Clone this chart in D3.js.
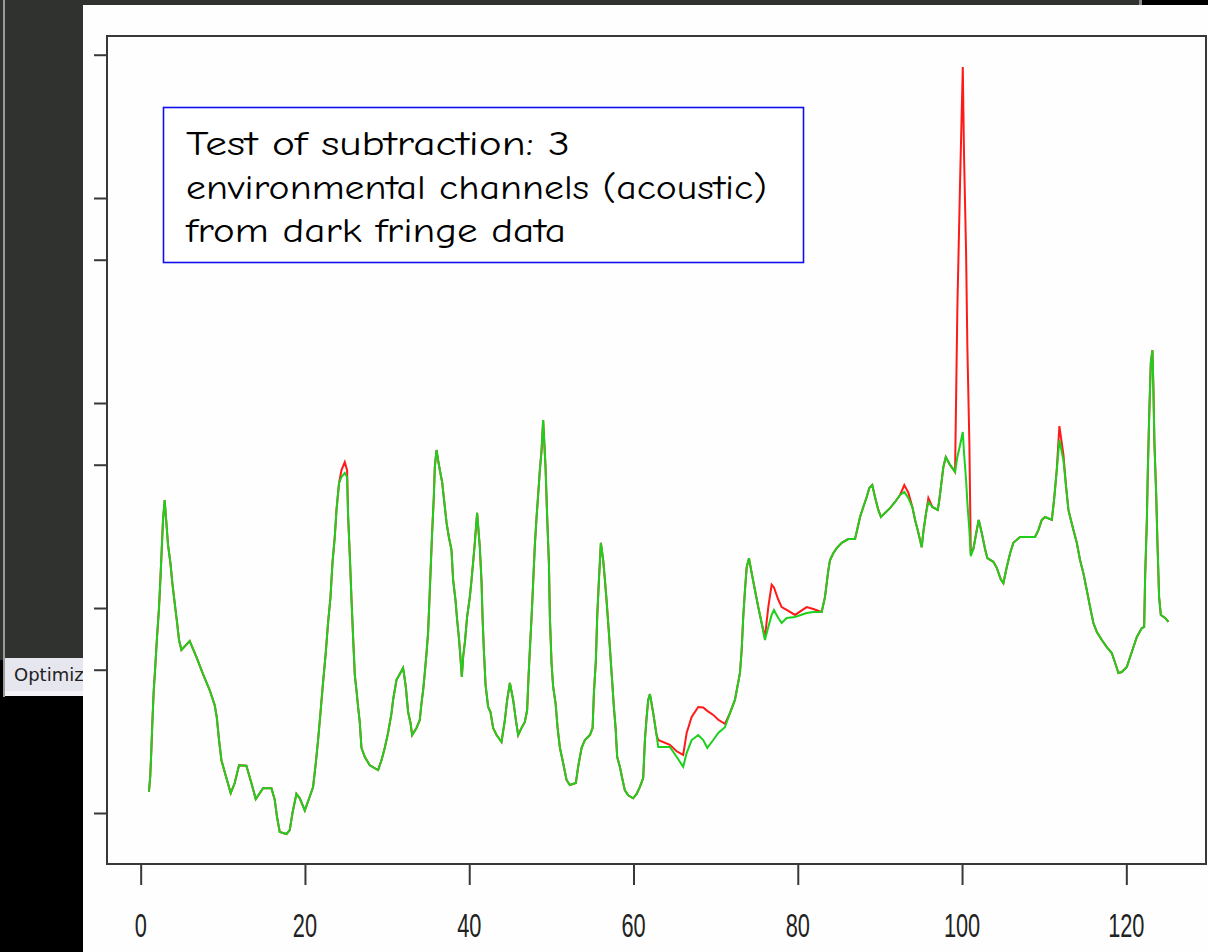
<!DOCTYPE html>
<html>
<head>
<meta charset="utf-8">
<script src="https://cdn.jsdelivr.net/npm/d3@7/dist/d3.min.js"></script>
<style>
  body { margin: 0; background: #000; }
  svg { display: block; }
</style>
</head>
<body>
<div id="chart-container"></div>
<script>
/* frequency bins (x) */
var freq = [
  1.01,1.16,1.30,1.43,1.58,1.79,1.99,2.23,2.40,2.56,
  2.72,2.92,3.13,3.33,3.62,3.86,4.14,4.42,4.67,4.96,
  5.97,6.78,7.59,8.40,9.01,9.26,9.54,9.83,10.23,10.96,
  11.45,11.97,12.87,13.48,14.01,14.90,15.92,16.32,16.60,16.93,
  17.75,18.15,18.48,18.96,19.37,19.98,20.58,20.99,21.32,21.60,
  21.92,22.20,22.53,22.81,23.11,23.35,23.63,23.84,24.15,24.45,
  24.85,25.13,25.25,25.46,25.66,25.86,26.07,26.27,26.47,26.67,
  26.88,27.28,27.89,28.90,29.32,29.72,30.12,30.54,30.73,31.14,
  31.95,32.28,32.56,32.85,33.05,33.58,33.98,34.19,34.39,34.59,
  34.80,34.99,35.12,35.29,35.48,35.69,35.81,36.02,36.21,36.42,
  36.70,36.94,37.24,37.52,37.84,38.04,38.33,38.53,38.77,38.98,
  39.10,39.26,39.50,39.74,40.07,40.28,40.48,40.68,40.96,41.29,
  41.50,41.62,41.78,41.99,42.30,42.59,42.91,43.33,43.93,44.34,
  44.62,44.95,45.35,45.68,45.96,46.37,46.77,47.05,47.22,47.38,
  47.59,47.78,47.99,48.20,48.39,48.60,48.81,49.00,49.29,49.49,
  49.70,49.82,50.02,50.22,50.51,50.76,51.04,51.44,51.85,52.25,
  52.98,53.26,53.68,54.08,54.69,55.02,55.18,55.42,55.58,55.79,
  56.03,56.31,56.52,56.72,57.04,57.25,57.45,57.61,57.82,58.01,
  58.34,58.67,58.95,59.35,59.96,60.38,60.78,61.18,61.39,61.60,
  61.79,62.00,62.40,62.81,63.01,64.43,65.25,66.05,66.47,67.08,
  67.88,68.49,68.98,69.71,70.32,71.13,71.74,72.35,72.96,73.17,
  73.36,73.57,73.78,74.06,74.39,74.79,75.19,75.60,76.00,76.41,
  76.82,77.10,77.62,78.04,78.65,79.66,81.08,81.89,82.91,83.31,
  83.52,83.72,83.92,84.32,84.74,85.35,86.15,86.97,87.17,87.58,
  87.98,88.39,88.71,89.07,89.40,89.80,90.13,90.62,91.23,91.84,
  92.45,92.97,93.46,93.95,94.28,94.60,94.88,95.09,95.29,95.62,
  95.90,96.38,97.04,97.20,97.53,97.72,98.02,98.54,99.15,99.43,
  99.76,100.09,100.24,100.49,100.65,100.89,101.06,101.38,101.79,102.03,
  102.40,102.80,103.08,103.81,104.23,104.71,105.03,105.44,105.85,106.25,
  107.06,108.89,109.29,109.71,110.11,110.93,111.21,111.53,111.85,112.34,
  112.67,112.95,113.16,113.56,113.97,114.37,114.77,115.19,115.59,115.99,
  116.41,117.02,117.62,118.23,118.64,119.04,119.45,120.06,120.46,120.87,
  121.28,121.89,122.17,122.29,122.50,122.62,122.78,122.98,123.18,123.30,
  123.42,123.63,123.79,123.99,124.20,124.73,125.13
]

/* spectrum after subtraction (green) */
var afterSub = [
  1.27,1.50,2.03,2.81,3.89,5.27,7.22,10.0,13.8,19.2,
  26.9,33.6,26.0,20.3,16.6,13.2,10.6,8.55,6.98,6.24,
  6.90,5.77,4.76,3.98,3.36,2.94,2.27,1.81,1.585,1.25,
  1.40,1.71,1.70,1.40,1.17,1.32,1.32,1.16,0.956,0.808,
  0.790,0.826,1.00,1.24,1.18,1.03,1.20,1.34,1.75,2.27,
  3.18,4.31,6.03,8.45,11.3,16.6,22.2,30.1,40.7,43.6,
  45.6,43.6,28.4,18.1,11.2,7.22,4.71,3.98,3.29,2.78,
  2.08,1.88,1.71,1.62,1.81,2.08,2.46,3.07,3.56,4.45,
  5.10,4.12,3.11,2.75,2.40,2.60,2.84,3.44,3.98,4.82,
  6.03,7.55,10.1,15.0,23.2,34.8,48.7,59.0,52.7,47.1,
  41.2,33.6,26.0,22.2,19.2,13.7,10.9,8.74,6.98,5.39,
  4.61,5.77,6.98,9.04,11.3,13.7,16.8,20.8,29.1,19.8,
  13.4,9.04,6.24,4.21,3.29,3.11,2.60,2.40,2.22,2.84,
  3.56,4.31,3.56,2.84,2.40,2.60,2.78,3.18,4.61,6.24,
  9.04,13.2,20.3,27.8,35.6,47.1,59.0,82.6,48.7,27.8,
  16.6,9.04,5.39,4.12,3.44,2.60,2.08,1.75,1.45,1.37,
  1.40,1.68,2.08,2.27,2.40,2.60,3.85,5.57,9.04,13.7,
  20.8,17.1,13.7,10.9,7.22,5.39,4.12,3.29,2.60,1.88,
  1.68,1.45,1.29,1.22,1.18,1.24,1.34,1.48,2.27,2.94,
  3.56,3.80,3.07,2.40,2.10,2.10,1.88,1.68,1.96,2.27,
  2.40,2.27,2.08,2.27,2.46,2.62,3.07,3.56,4.82,6.24,
  9.04,12.2,15.8,17.5,14.8,12.2,10.1,8.45,6.98,8.08,
  9.25,9.78,8.94,8.45,8.94,9.04,9.46,9.56,9.56,11.3,
  13.2,15.3,17.1,18.5,19.6,20.8,21.7,21.7,23.5,27.8,
  31.1,34.8,38.5,39.8,34.8,30.1,27.8,29.1,30.7,32.9,
  35.6,36.8,34.4,31.1,26.9,24.0,21.5,19.8,23.5,29.1,
  32.9,31.1,30.1,32.9,42.1,48.7,54.5,49.9,46.1,54.5,
  62.4,72.2,57.0,42.1,32.5,24.0,17.9,19.4,24.0,26.9,
  23.2,19.4,17.5,16.8,15.7,13.8,13.2,15.8,18.5,20.8,
  22.2,22.2,24.0,26.9,27.8,26.9,34.0,47.1,66.0,52.7,
  38.9,30.1,27.8,24.0,20.8,17.1,14.8,12.2,10.1,8.45,
  7.64,6.98,6.45,6.03,5.39,4.82,4.87,5.16,5.77,6.45,
  7.22,7.99,8.08,14.2,26.9,47.1,85.5,157,181,116,
  63.8,36.4,20.8,11.3,9.25,8.94,8.55
]

/* dark fringe spectrum before subtraction (red) */
var beforeSub = [
  1.27,1.50,2.03,2.81,3.89,5.27,7.22,10.0,13.8,19.2,
  26.9,33.6,26.0,20.3,16.6,13.2,10.6,8.55,6.98,6.24,
  6.90,5.77,4.76,3.98,3.36,2.94,2.27,1.81,1.585,1.25,
  1.40,1.71,1.70,1.40,1.17,1.32,1.32,1.16,0.956,0.808,
  0.790,0.826,1.00,1.24,1.18,1.03,1.20,1.34,1.75,2.27,
  3.18,4.31,6.03,8.45,11.3,16.6,22.2,30.1,40.7,47.1,
  51.5,47.0,28.4,18.1,11.2,7.22,4.71,3.98,3.29,2.78,
  2.08,1.88,1.71,1.62,1.81,2.08,2.46,3.07,3.56,4.45,
  5.10,4.12,3.11,2.75,2.40,2.60,2.84,3.44,3.98,4.82,
  6.03,7.55,10.1,15.0,23.2,34.8,48.7,59.0,52.7,47.1,
  41.2,33.6,26.0,22.2,19.2,13.7,10.9,8.74,6.98,5.39,
  4.61,5.77,6.98,9.04,11.3,13.7,16.8,20.8,29.1,19.8,
  13.4,9.04,6.24,4.21,3.29,3.11,2.60,2.40,2.22,2.84,
  3.56,4.31,3.56,2.84,2.40,2.60,2.78,3.18,4.61,6.24,
  9.04,13.2,20.3,27.8,35.6,47.1,59.0,82.6,48.7,27.8,
  16.6,9.04,5.39,4.12,3.44,2.60,2.08,1.75,1.45,1.37,
  1.40,1.68,2.08,2.27,2.40,2.60,3.85,5.57,9.04,13.7,
  20.8,17.1,13.7,10.9,7.22,5.39,4.12,3.29,2.60,1.88,
  1.68,1.45,1.29,1.22,1.18,1.24,1.34,1.48,2.27,2.94,
  3.56,3.80,3.07,2.40,2.27,2.15,2.00,1.92,2.46,2.94,
  3.29,3.27,3.15,3.01,2.85,2.72,3.07,3.56,4.82,6.24,
  9.04,12.2,15.8,17.5,14.8,12.2,10.1,8.45,7.20,10.1,
  13.0,12.6,11.0,10.1,9.78,9.25,10.1,9.89,9.56,11.3,
  13.2,15.3,17.1,18.5,19.6,20.8,21.7,21.7,23.5,27.8,
  31.1,34.8,38.5,39.8,34.8,30.1,27.8,29.1,30.7,32.9,
  35.6,39.8,36.5,31.1,26.9,24.0,21.5,19.8,23.5,29.1,
  34.4,31.1,30.1,32.9,42.1,48.7,54.5,49.9,46.1,291,
  1200,4350,1620,545,185,63.8,18.8,19.4,24.0,26.9,
  23.2,19.4,17.5,16.8,15.7,13.8,13.2,15.8,18.5,20.8,
  22.2,22.2,24.0,26.9,27.8,26.9,34.0,47.1,77.2,56.0,
  38.9,30.1,27.8,24.0,20.8,17.1,14.8,12.2,10.1,8.45,
  7.64,6.98,6.45,6.03,5.39,4.82,4.87,5.16,5.77,6.45,
  7.22,7.99,8.08,14.2,26.9,47.1,85.5,157,181,116,
  63.8,36.4,20.8,11.3,9.25,8.94,8.55
]

/* axis ticks */
var xTicks = [0, 20, 40, 60, 80, 100, 120]
var yTicks = [1, 5, 10, 50, 100, 500, 1000, 5000]
var xDomain = [-4.1, 129.7]
var yDomain = [0.564, 6170]

var noteLines = [
  "Test of subtraction: 3",
  "environmental channels (acoustic)",
  "from dark fringe data"
]

var layout = {
  width: 1208,
  height: 952,
  panelX: 83,
  panelY: 5,
  left: 107,
  right: 1206,
  top: 36,
  bottom: 864,
  axisColor: "#383838",
  redColor: "#ff1a1a",
  greenColor: "#1ecf1e"
}

function rowsOf(vals) {
  return freq.map(function(f, i) { return { f: f, v: vals[i] } })
}

var svg = d3.select("#chart-container")
  .append("svg")
  .attr("width", layout.width)
  .attr("height", layout.height)

/* screenshot surroundings */
svg.append("rect").attr("x", 0).attr("y", 0).attr("width", layout.width).attr("height", layout.height).attr("fill", "#000")
svg.append("rect").attr("x", 0).attr("y", 0).attr("width", 1140).attr("height", 660).attr("fill", "#30322f")
svg.append("rect").attr("x", 1139).attr("y", 0).attr("width", 3).attr("height", layout.panelY).attr("fill", "#8a8a8a")
svg.append("rect").attr("x", 3).attr("y", 0).attr("width", 2).attr("height", 697).attr("fill", "#9a9a9a")
svg.append("rect").attr("x", 5).attr("y", 658).attr("width", 80).attr("height", 33).attr("fill", "#e6e6ee")
svg.append("rect").attr("x", 5).attr("y", 691).attr("width", 80).attr("height", 5).attr("fill", "#f3f3f8")

svg.append("defs").append("clipPath").attr("id", "left-clip")
  .append("rect").attr("x", 0).attr("y", 0).attr("width", layout.panelX).attr("height", layout.height)

svg.append("text")
  .attr("clip-path", "url(#left-clip)")
  .attr("x", 14)
  .attr("y", 681)
  .attr("font-family", "'DejaVu Sans', sans-serif")
  .attr("font-size", 18)
  .attr("fill", "#222")
  .text("Optimization")

/* white plot window */
svg.append("rect")
  .attr("x", layout.panelX)
  .attr("y", layout.panelY)
  .attr("width", layout.width - layout.panelX)
  .attr("height", layout.height - layout.panelY)
  .attr("fill", "#fefefe")

/* scales */
var x = d3.scaleLinear().domain(xDomain).range([layout.left, layout.right])
var y = d3.scaleLog().domain(yDomain).range([layout.bottom, layout.top])

svg.append("defs").append("clipPath").attr("id", "plot-clip")
  .append("rect")
  .attr("x", layout.left).attr("y", layout.top)
  .attr("width", layout.right - layout.left)
  .attr("height", layout.bottom - layout.top)

var line = d3.line()
  .x(function(d) { return x(d.f) })
  .y(function(d) { return y(d.v) })

var lines = svg.append("g").attr("clip-path", "url(#plot-clip)")

lines.append("path")
  .datum(rowsOf(beforeSub))
  .attr("fill", "none")
  .attr("stroke", layout.redColor)
  .attr("stroke-width", 2)
  .attr("stroke-linejoin", "miter")
  .attr("d", line)

lines.append("path")
  .datum(rowsOf(afterSub))
  .attr("fill", "none")
  .attr("stroke", layout.greenColor)
  .attr("stroke-width", 2)
  .attr("stroke-linejoin", "miter")
  .attr("d", line)

/* axes */
var yAxis = svg.append("g")
  .attr("transform", "translate(" + layout.left + ",0)")
  .call(d3.axisLeft(y).tickValues(yTicks).tickFormat("").tickSize(13).tickSizeOuter(0))
yAxis.select(".domain").remove()
yAxis.selectAll(".tick line").attr("stroke", layout.axisColor).attr("stroke-width", 2)

var xAxis = svg.append("g")
  .attr("transform", "translate(0," + layout.bottom + ")")
  .call(d3.axisBottom(x).tickValues(xTicks).tickFormat("").tickSize(21).tickSizeOuter(0))
xAxis.select(".domain").remove()
xAxis.selectAll(".tick line").attr("stroke", layout.axisColor).attr("stroke-width", 2)

svg.append("g")
  .selectAll(".x-label")
  .data(xTicks)
  .enter()
  .append("text")
  .attr("class", "x-label")
  .attr("transform", function(d) { return "translate(" + x(d) + ",937) scale(0.66,1)" })
  .attr("text-anchor", "middle")
  .attr("font-family", "'Liberation Sans', Arial, sans-serif")
  .attr("font-size", 33)
  .attr("fill", "#222")
  .text(function(d) { return d })

/* plot frame */
svg.append("rect")
  .attr("x", layout.left)
  .attr("y", layout.top)
  .attr("width", layout.right - layout.left)
  .attr("height", layout.bottom - layout.top)
  .attr("fill", "none")
  .attr("stroke", layout.axisColor)
  .attr("stroke-width", 2)

/* note box */
var note = svg.append("g")
note.append("rect")
  .attr("x", 163.5)
  .attr("y", 107.5)
  .attr("width", 640)
  .attr("height", 155)
  .attr("fill", "#fff")
  .attr("stroke", "#1010ee")
  .attr("stroke-width", 1.6)

var noteWidths = [384, 581, 380]
note.selectAll(".note-line")
  .data(noteLines)
  .enter()
  .append("text")
  .attr("class", "note-line")
  .attr("x", 186)
  .attr("y", function(d, i) { return 155 + i * 43.5 })
  .attr("font-family", "'Comic Sans MS', 'Comic Neue', 'DejaVu Sans', sans-serif")
  .attr("font-size", 34)
  .attr("fill", "#000")
  .attr("textLength", function(d, i) { return noteWidths[i] })
  .attr("lengthAdjust", "spacingAndGlyphs")
  .text(function(d) { return d })
</script>
</body>
</html>
